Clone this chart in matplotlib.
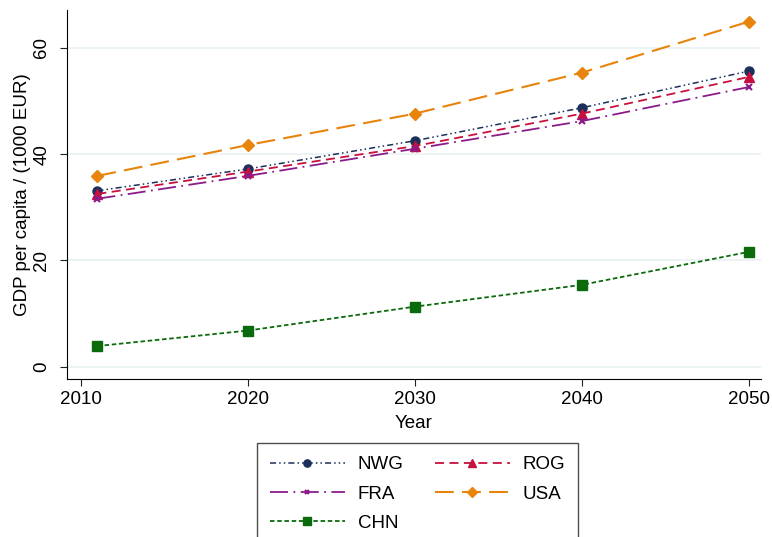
import matplotlib
matplotlib.use("Agg")
import matplotlib.pyplot as plt

plt.rcParams['font.family'] = ['Liberation Sans', 'DejaVu Sans']

years = [2011, 2020, 2030, 2040, 2050]
nwg = [33.1, 37.2, 42.5, 48.7, 55.6]
rog = [32.5, 36.7, 41.5, 47.6, 54.5]
fra = [31.6, 35.9, 41.0, 46.2, 52.6]
usa = [35.9, 41.7, 47.6, 55.3, 64.9]
chn = [3.9, 6.8, 11.3, 15.4, 21.6]

fs = 13.5

fig = plt.figure(figsize=(7.72, 5.37), dpi=100)
ax = fig.add_axes([67 / 772, 1 - 379 / 537, 694 / 772, 369 / 537])

l_nwg, = ax.plot(years, nwg, color='#1a2f5a', ls=(0, (4, 2, 1, 2, 1, 2)), lw=1.1,
                 marker='o', ms=6.5, label='NWG')
l_rog, = ax.plot(years, rog, color='#c8103e', ls=(0, (5, 3)), lw=1.3,
                 marker='^', ms=6.5, label='ROG')
l_fra, = ax.plot(years, fra, color='#8b1a8b', ls=(0, (10, 3, 1, 3)), lw=1.3,
                 marker='x', ms=4, mew=1.5, label='FRA')
l_usa, = ax.plot(years, usa, color='#e8830c', ls=(0, (9, 4)), lw=1.5,
                 marker='D', ms=6.5, label='USA')
l_chn, = ax.plot(years, chn, color='#0b6a0b', ls=(0, (2.5, 1.5)), lw=1.3,
                 marker='s', ms=6.5, label='CHN')

ax.set_xlim(2009.18, 2050.74)
ax.set_ylim(-2.3, 67.1)
ax.set_xticks([2010, 2020, 2030, 2040, 2050])
ax.set_yticks([0, 20, 40, 60])
ax.tick_params(axis='both', labelsize=fs, length=5, color='#222222')
ax.tick_params(axis='y', pad=7)
for lab in ax.get_yticklabels():
    lab.set_rotation(90)
    lab.set_va('center')
ax.grid(axis='y', color='#eaf2f3', lw=1.3)
ax.set_axisbelow(True)
for s in ['top', 'right']:
    ax.spines[s].set_visible(False)
ax.set_xlabel('Year', fontsize=fs, labelpad=5)
ax.set_ylabel('GDP per capita / (1000 EUR)', fontsize=fs, labelpad=1.5)

# row-major order: NWG ROG / FRA USA / CHN
hs = [l_nwg, l_fra, l_chn, l_rog, l_usa]
leg = fig.legend(hs, [h.get_label() for h in hs], loc='upper center',
                 bbox_to_anchor=(417.5 / 772, 1 - 443 / 537), ncol=2, fontsize=fs,
                 frameon=True, fancybox=False, edgecolor='#222222',
                 handlelength=4.0, handletextpad=0.7, columnspacing=1.65,
                 borderpad=0.7, labelspacing=0.65, markerscale=0.8,
                 borderaxespad=0)
leg.get_frame().set_linewidth(1.0)

fig.savefig('out.png', dpi=100)
